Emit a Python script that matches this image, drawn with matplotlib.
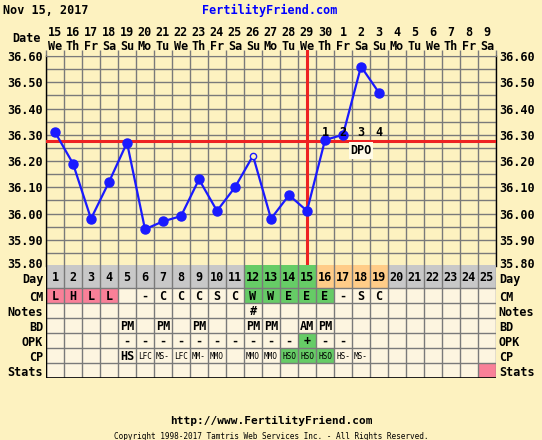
import numpy as np
import matplotlib
matplotlib.use('Agg')
import matplotlib.pyplot as plt
import matplotlib.transforms as mtransforms
from matplotlib.patches import Rectangle

W, H = 542, 440
BG = '#fdf2c0'
CELL = '#fdf5e0'
GRID = '#7a7a7a'
GRAY = '#c8c8c8'
PINK = '#f98098'
GREEN = '#66cc66'
ORANGE = '#ffcc88'
RED = '#ee2222'
BLUE = '#1a1aff'

plt.rcParams['font.family'] = 'DejaVu Sans Mono'
plt.rcParams['font.weight'] = 'bold'

# ---- data ----
dates = ['15', '16', '17', '18', '19', '20', '21', '22', '23', '24', '25', '26', '27',
         '28', '29', '30', '1', '2', '3', '4', '5', '6', '7', '8', '9']
weekdays = ['We', 'Th', 'Fr', 'Sa', 'Su', 'Mo', 'Tu', 'We', 'Th', 'Fr', 'Sa', 'Su', 'Mo',
            'Tu', 'We', 'Th', 'Fr', 'Sa', 'Su', 'Mo', 'Tu', 'We', 'Th', 'Fr', 'Sa']
days = np.arange(1, 26)
temp_days = np.arange(1, 20)
temps = [36.31, 36.19, 35.98, 36.12, 36.27, 35.94, 35.97, 35.99, 36.13, 36.01,
         36.10, 36.22, 35.98, 36.07, 36.01, 36.28, 36.30, 36.56, 36.46]
open_days = [12]
coverline = 36.275
ovulation_day = 15
dpo_days = [16, 17, 18, 19]
dpo_labels = ['1', '2', '3', '4']

day_colors = [GRAY] * 11 + [GREEN] * 4 + [ORANGE] * 4 + [GRAY] * 6
cm = ['L', 'H', 'L', 'L', '', '-', 'C', 'C', 'C', 'S', 'C', 'W', 'W', 'E', 'E', 'E',
      '-', 'S', 'C']
cm_colors = {1: PINK, 2: PINK, 3: PINK, 4: PINK, 12: GREEN, 13: GREEN, 14: GREEN,
             15: GREEN, 16: GREEN}
notes = {12: '#'}
bd = {5: 'PM', 7: 'PM', 9: 'PM', 12: 'PM', 13: 'PM', 15: 'AM', 16: 'PM'}
opk = {5: '-', 6: '-', 7: '-', 8: '-', 9: '-', 10: '-', 11: '-', 12: '-', 13: '-',
       14: '-', 15: '+', 16: '-', 17: '-'}
opk_colors = {15: GREEN}
cp = {5: 'HS', 6: 'LFC', 7: 'MS-', 8: 'LFC', 9: 'MM-', 10: 'MMO', 12: 'MMO',
      13: 'MMO', 14: 'HSO', 15: 'HSO', 16: 'HSO', 17: 'HS-', 18: 'MS-'}
cp_colors = {14: GREEN, 15: GREEN, 16: GREEN}
stats_colors = {25: PINK}

row_names = ['Day', 'CM', 'Notes', 'BD', 'OPK', 'CP', 'Stats']
row_edges = [265, 288, 303, 318, 333, 348, 363, 378]


def fbox(x0, y0, x1, y1):
    return [x0 / W, 1 - y1 / H, (x1 - x0) / W, (y1 - y0) / H]


fig = plt.figure(figsize=(W / 100, H / 100), dpi=100, facecolor=BG)

# ---- temperature chart ----
ax = fig.add_axes(fbox(46, 56, 496, 266))
ax.set_facecolor(BG)
ax.set_xlim(0.5, 25.5)
ax.set_ylim(35.80, 36.60)
ax.set_xticks(np.arange(0.5, 25.6, 1))
ax.set_yticks(np.arange(35.80, 36.61, 0.10))
ax.set_yticks(np.arange(35.85, 36.6, 0.10), minor=True)
ax.set_yticklabels(['%.2f' % v for v in np.arange(35.80, 36.61, 0.10)])
ax.grid(True, which='both', color=GRID, lw=1.0)
ax.set_axisbelow(True)
ax.tick_params(axis='x', which='both', bottom=False, labelbottom=False, top=True,
               direction='out', length=4, color=GRID, width=1.0)
ax.tick_params(axis='y', which='both', length=0, labelleft=True, labelright=True,
               labelsize=8.5, pad=2)
for s in ['left', 'right']:
    ax.spines[s].set_color('black')
    ax.spines[s].set_linewidth(1.0)
ax.spines['top'].set_color(GRID)
ax.spines['bottom'].set_visible(False)

# lift the lowest temperature label a little off the table
lift = mtransforms.ScaledTranslation(0, 2 / 72, fig.dpi_scale_trans)
ticks = ax.yaxis.get_major_ticks()
ticks[0].label1.set_transform(ticks[0].label1.get_transform() + lift)
ticks[0].label2.set_transform(ticks[0].label2.get_transform() + lift)

ax.axhline(coverline, color=RED, lw=2.2, zorder=3)
ax.plot([ovulation_day, ovulation_day], [35.80, 36.62], color=RED, lw=2.2,
        zorder=3, clip_on=False)
ax.plot(temp_days, temps, color=BLUE, lw=1.6, zorder=4)
solid = [i for i, d in enumerate(temp_days) if d not in open_days]
ax.plot(temp_days[solid], np.array(temps)[solid], 'o', color=BLUE, ms=6.5, zorder=5)
opn = [i for i, d in enumerate(temp_days) if d in open_days]
ax.plot(temp_days[opn], np.array(temps)[opn], 'o', mfc=BG, mec=BLUE, mew=1.0,
        ms=4.5, zorder=5)

for d, lab in zip(dpo_days, dpo_labels):
    ax.text(d, 36.307, lab, ha='center', va='center', fontsize=8.5, zorder=6)
ax.text(18, 36.24, 'DPO', ha='center', va='center', fontsize=8.5, zorder=6,
        bbox=dict(boxstyle='square,pad=0.15', fc='#fffbe8', ec='none'))

# header rows
xt = ax.get_xaxis_transform()
for d, ds, wd in zip(days, dates, weekdays):
    ax.text(d, (266 - 32) / 210, ds, transform=xt, ha='center', va='center',
            fontsize=8.5)
    ax.text(d, (266 - 46) / 210, wd, transform=xt, ha='center', va='center',
            fontsize=8.5)
ax.text(-0.3 / 25, (266 - 39) / 210, 'Date', transform=ax.transAxes, ha='right',
        va='center', fontsize=8.5)

# ---- table ----
tax = fig.add_axes(fbox(46, 265, 496, 378))
tax.set_xlim(0.5, 25.5)
tax.set_ylim(378, 265)
tax.set_facecolor(CELL)
for s in tax.spines.values():
    s.set_visible(False)
tax.set_xticks([])
centers = [(a + b) / 2 for a, b in zip(row_edges[:-1], row_edges[1:])]
label_y = [centers[0] + 1.5] + centers[1:]
tax.set_yticks(label_y)
tax.set_yticklabels(row_names)
tax.tick_params(axis='y', length=0, labelleft=True, labelright=True, labelsize=8.5,
                pad=2)


def cell(d, r, color):
    tax.add_patch(Rectangle((d - 0.5, row_edges[r]), 1, row_edges[r + 1] - row_edges[r],
                            fc=color, ec='none', zorder=1))


def ctext(d, r, s, size=8.5, weight='bold'):
    tax.text(d, centers[r] + 0.5, s, ha='center', va='center', fontsize=size,
             fontweight=weight, zorder=3)


for d, c in zip(days, day_colors):
    cell(d, 0, c)
    ctext(d, 0, str(d))
for d, c in cm_colors.items():
    cell(d, 1, c)
for d, s in zip(temp_days, cm):
    ctext(d, 1, s)
for d, s in notes.items():
    ctext(d, 2, s)
for d, s in bd.items():
    ctext(d, 3, s)
for d, c in opk_colors.items():
    cell(d, 4, c)
for d, s in opk.items():
    ctext(d, 4, s)
for d, c in cp_colors.items():
    cell(d, 5, c)
for d, s in cp.items():
    if len(s) == 2:
        ctext(d, 5, s, size=8.5)
    else:
        ctext(d, 5, s, size=5.6, weight='normal')
for d, c in stats_colors.items():
    cell(d, 6, c)

for x in np.arange(0.5, 25.6, 1):
    tax.plot([x, x], [row_edges[0], row_edges[-1]], color=GRID, lw=1.0, zorder=2)
for y in row_edges[1:]:
    tax.plot([0.5, 25.5], [y, y], color=GRID, lw=1.0, zorder=2)
tax.plot([0.5, 0.5], [row_edges[0], row_edges[-1]], color='black', lw=1.0, zorder=2)
tax.plot([0.5, 25.5], [row_edges[-1], row_edges[-1]], color='black', lw=1.2, zorder=2)

# ---- titles / footer ----
fig.text(3 / W, 1 - 10 / H, 'Nov 15, 2017', ha='left', va='center', fontsize=8.5)
fig.text(270 / W, 1 - 10 / H, 'FertilityFriend.com', ha='center', va='center',
         fontsize=8.5, color='#0000ff')
fig.text(271 / W, 1 - 421 / H, 'http://www.FertilityFriend.com', ha='center',
         va='center', fontsize=8)
fig.text(271 / W, 1 - 436 / H,
         'Copyright 1998-2017 Tamtris Web Services Inc. - All Rights Reserved.',
         ha='center', va='center', fontsize=5.6, fontweight='normal')

fig.savefig('out.png', dpi=100, facecolor=BG)
